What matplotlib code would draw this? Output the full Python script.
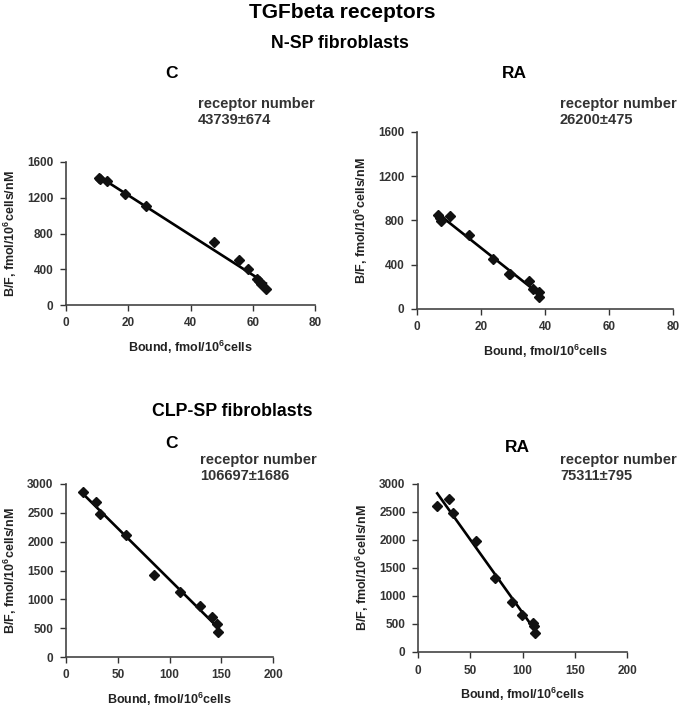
import numpy as np
import matplotlib
matplotlib.use("Agg")
import matplotlib.pyplot as plt

plt.rcParams['font.family'] = ['Liberation Sans', 'DejaVu Sans']
plt.rcParams['font.weight'] = 'bold'
plt.rcParams['mathtext.default'] = 'regular'

# Data
nsp_c_bound = [10.5, 11.0, 13.2, 18.8, 25.7, 47.6, 55.6, 58.6, 61.3, 62.0, 62.5, 64.2]
nsp_c_bf = [1420, 1410, 1385, 1245, 1105, 700, 500, 400, 290, 265, 240, 180]

nsp_ra_bound = [6.5, 7.3, 7.6, 10.4, 16.4, 23.9, 28.6, 29.0, 35.0, 36.4, 38.1, 38.1]
nsp_ra_bf = [850, 827, 797, 845, 670, 450, 317, 320, 254, 181, 151, 112]

clp_c_bound = [16.1, 29.2, 33.1, 57.8, 85.4, 110.4, 129.7, 140.6, 145.7, 147.0]
clp_c_bf = [2867, 2693, 2479, 2114, 1419, 1129, 886, 695, 579, 434]

clp_ra_bound = [18.4, 29.3, 33.4, 55.3, 73.8, 90.0, 99.8, 109.7, 110.7, 112.2]
clp_ra_bf = [2613, 2738, 2482, 1976, 1321, 887, 667, 518, 458, 339]

receptor_numbers = ['43739±674', '26200±475', '106697±1686', '75311±795']

W, H = 685, 708
fig = plt.figure(figsize=(W / 100, H / 100), dpi=100)


def rect(x0, x1, y0, y1):
    return [x0 / W, 1 - y1 / H, (x1 - x0) / W, (y1 - y0) / H]


def ftext(x, y, s, **kw):
    fig.text(x / W, 1 - y / H, s, ha='center', va='center', fontweight='bold', **kw)


panels = [
    (rect(66, 315, 162, 305), nsp_c_bound, nsp_c_bf, (0, 80), [0, 20, 40, 60, 80], (0, 1600), [0, 400, 800, 1200, 1600]),
    (rect(417, 673, 132, 309), nsp_ra_bound, nsp_ra_bf, (0, 80), [0, 20, 40, 60, 80], (0, 1600), [0, 400, 800, 1200, 1600]),
    (rect(66, 273, 484, 657), clp_c_bound, clp_c_bf, (0, 200), [0, 50, 100, 150, 200], (0, 3000), [0, 500, 1000, 1500, 2000, 2500, 3000]),
    (rect(418, 627, 484, 652), clp_ra_bound, clp_ra_bf, (0, 200), [0, 50, 100, 150, 200], (0, 3000), [0, 500, 1000, 1500, 2000, 2500, 3000]),
]

for r, bx, by, xl, xt, yl, yt in panels:
    ax = fig.add_axes(r)
    bx = np.array(bx)
    by = np.array(by)
    k, b = np.polyfit(bx, by, 1)
    xs = np.array([bx.min(), bx.max()])
    ax.plot(xs, k * xs + b, color='black', lw=1.9)
    ax.plot(bx, by, 'D', color='#111111', ms=5)
    ax.set_xlim(*xl)
    ax.set_ylim(*yl)
    ax.set_xticks(xt)
    ax.set_yticks(yt)
    for s in ['top', 'right']:
        ax.spines[s].set_visible(False)
    for s in ['left', 'bottom']:
        ax.spines[s].set_color('#444444')
        ax.spines[s].set_linewidth(1.2)
    ax.tick_params(labelsize=8.5, colors='#333333', length=4, width=1, pad=5)
    for lab in ax.get_xticklabels() + ax.get_yticklabels():
        lab.set_fontweight('bold')
    ax.set_ylabel('B/F, fmol/10$^6$cells/nM', fontsize=9, fontweight='bold', labelpad=6, color='#222222')
    ax.set_xlabel('Bound, fmol/10$^6$cells', fontsize=9, fontweight='bold', labelpad=7, color='#222222')

# titles
ftext(342, 12, 'TGFbeta receptors', fontsize=15)
ftext(340, 44, 'N-SP fibroblasts', fontsize=12.8)
ftext(172, 73, 'C', fontsize=12.5)
ftext(514, 73, 'RA', fontsize=12.5)
ftext(232, 412, 'CLP-SP fibroblasts', fontsize=12.8)
ftext(172, 443, 'C', fontsize=12.5)
ftext(517, 447, 'RA', fontsize=12.5)

# receptor numbers
rn_pos = [(198, 112), (560, 112), (200, 468), (560, 468)]
for (x, y), s in zip(rn_pos, receptor_numbers):
    fig.text(x / W, 1 - y / H, 'receptor number\n' + s, ha='left', va='center',
             fontsize=10.5, fontweight='bold', color='#333333', linespacing=1.25)

fig.savefig('out.png', dpi=100)
